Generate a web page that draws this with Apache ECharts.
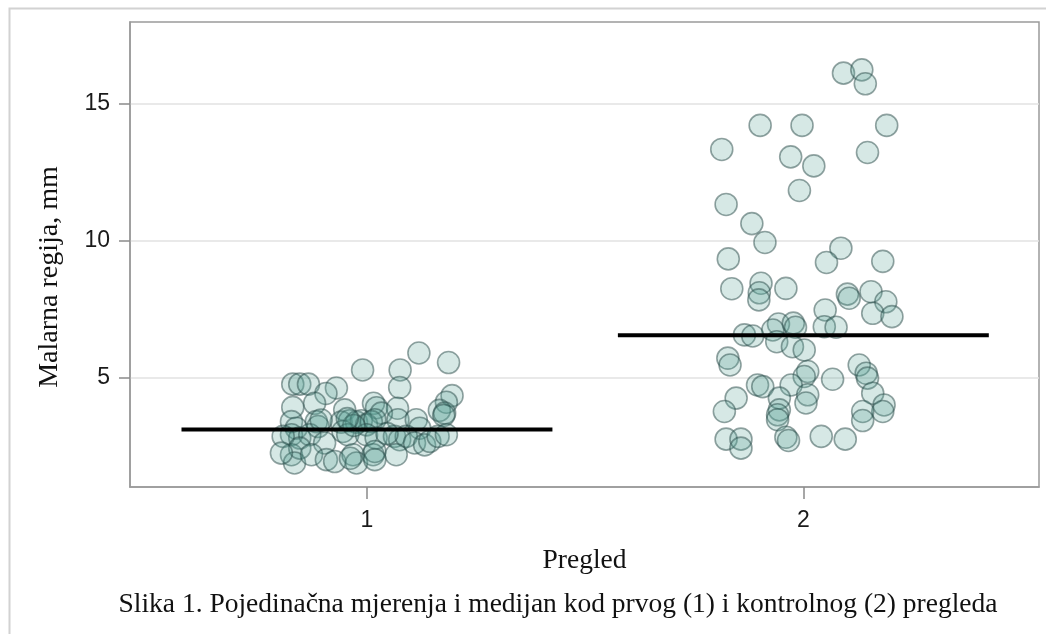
<!DOCTYPE html>
<html>
<head>
<meta charset="utf-8">
<script src="https://cdn.jsdelivr.net/npm/echarts@6/dist/echarts.min.js"></script>
<style>
  html, body { margin: 0; padding: 0; background: #fff; }
  #chart { width: 1046px; height: 634px; }
</style>
</head>
<body>
<div id="chart"></div>
<script>
// pregled (1 = prvi, 2 = kontrolni)
const groups = [1, 2];
const groupLabels = ['1', '2'];
const medians = [3.1, 6.55];
const yTicks = [5, 10, 15];

// [jitter from group centre, Malarna regija mm]
const pregled1 = [
  [0.119, 5.90], [0.187, 5.55], [-0.010, 5.28], [0.076, 5.28], [0.075, 4.64],
  [-0.170, 4.76], [-0.154, 4.76], [-0.134, 4.76], [-0.070, 4.62], [-0.094, 4.42],
  [-0.120, 4.06], [-0.170, 3.91], [0.015, 4.06], [0.022, 3.90], [0.070, 3.88],
  [0.195, 4.34], [0.182, 4.10], [0.166, 3.80], [0.178, 3.70], [0.176, 3.62],
  [-0.051, 3.82], [0.033, 3.70], [-0.173, 3.39], [-0.162, 3.15], [-0.116, 3.39],
  [-0.112, 3.21], [-0.059, 3.37], [-0.040, 3.42], [-0.024, 3.37], [-0.013, 3.42],
  [-0.001, 3.27], [0.010, 3.39], [0.018, 3.46], [0.071, 3.46], [0.113, 3.46],
  [0.121, 3.15], [-0.173, 2.91], [-0.154, 2.79], [-0.131, 2.91], [-0.097, 2.61],
  [-0.055, 3.03], [-0.044, 2.91], [-0.001, 2.91], [0.021, 2.79], [0.063, 2.85],
  [0.075, 2.73], [0.090, 2.85], [0.109, 2.61], [0.132, 2.54], [0.144, 2.67],
  [0.163, 2.85], [0.182, 2.91], [-0.192, 2.85], [-0.173, 2.18], [-0.154, 2.42],
  [-0.166, 1.88], [-0.127, 2.18], [-0.093, 2.00], [-0.074, 1.93], [-0.032, 2.18],
  [-0.024, 1.88], [0.014, 2.18], [0.018, 2.30], [0.067, 2.18], [0.018, 2.00],
  [-0.196, 2.24], [-0.038, 2.05], [0.046, 2.95], [-0.030, 3.25], [-0.045, 3.50],
  [-0.105, 3.45]
];

const pregled2 = [
  [0.092, 16.13], [0.134, 16.25], [0.142, 15.74], [-0.099, 14.22], [-0.003, 14.22],
  [0.191, 14.22], [-0.187, 13.34], [-0.029, 13.07], [0.024, 12.74], [0.147, 13.23],
  [-0.009, 11.84], [-0.177, 11.33], [-0.118, 10.63], [-0.088, 9.94], [0.086, 9.73],
  [-0.172, 9.34], [0.053, 9.21], [0.182, 9.25], [-0.164, 8.25], [-0.097, 8.45],
  [-0.101, 8.10], [-0.102, 7.84], [-0.040, 8.26], [0.101, 8.05], [0.105, 7.90],
  [0.155, 8.14], [0.189, 7.77], [0.159, 7.35], [0.203, 7.23], [0.050, 7.47],
  [0.048, 6.86], [0.075, 6.84], [-0.057, 6.96], [-0.023, 6.99], [-0.018, 6.84],
  [-0.070, 6.74], [-0.135, 6.56], [-0.116, 6.52], [-0.061, 6.31], [-0.025, 6.13],
  [0.002, 6.01], [-0.173, 5.71], [-0.168, 5.46], [0.128, 5.46], [0.144, 5.16],
  [0.147, 4.98], [0.159, 4.43], [0.067, 4.94], [0.010, 5.22], [0.002, 5.04],
  [-0.028, 4.73], [-0.105, 4.73], [-0.093, 4.67], [-0.154, 4.25], [-0.181, 3.76],
  [-0.055, 4.25], [0.010, 4.37], [0.006, 4.07], [-0.055, 3.82], [-0.059, 3.64],
  [-0.059, 3.46], [0.185, 4.00], [0.182, 3.76], [0.136, 3.76], [0.136, 3.43],
  [-0.177, 2.75], [-0.143, 2.75], [-0.143, 2.42], [-0.040, 2.82], [-0.034, 2.70],
  [0.041, 2.85], [0.096, 2.75]
];

const medianHalfWidth = 0.425;

const chart = echarts.init(document.getElementById('chart'));

const pointStyle = {
  color: 'rgba(88, 160, 150, 0.3)',
  borderColor: 'rgba(40, 72, 70, 0.62)',
  borderWidth: 1.6
};

const scatterSeries = [pregled1, pregled2].map((pts, i) => ({
  type: 'scatter',
  symbolSize: 22,
  itemStyle: pointStyle,
  data: pts.map(p => [groups[i] + p[0], p[1]]),
  z: 2
}));

const medianSeries = medians.map((m, i) => ({
  type: 'line',
  symbol: 'none',
  silent: true,
  lineStyle: { color: '#000', width: 4 },
  data: [[groups[i] - medianHalfWidth, m], [groups[i] + medianHalfWidth, m]],
  z: 5
}));

const option = {
  backgroundColor: '#fff',
  animation: false,
  grid: {
    left: 130, right: 7, top: 22, bottom: 147,
    show: true,
    borderColor: '#9a9a9a',
    borderWidth: 1.5
  },
  xAxis: {
    type: 'value',
    min: 0.457,
    max: 2.54,
    name: 'Pregled',
    nameLocation: 'middle',
    nameGap: 60,
    nameTextStyle: { fontFamily: 'Liberation Serif', fontSize: 27.5, color: '#111' },
    axisLine: { show: true, lineStyle: { color: '#9a9a9a', width: 1.5 } },
    axisTick: { show: true, customValues: groups, length: 12, lineStyle: { color: '#8a8a8a', width: 1.5 } },
    axisLabel: {
      customValues: groups,
      margin: 22,
      fontFamily: 'Liberation Sans',
      fontSize: 23,
      color: '#1a1a1a',
      formatter: v => groupLabels[groups.indexOf(v)] || ''
    },
    splitLine: { show: false }
  },
  yAxis: {
    type: 'value',
    min: 1,
    max: 18,
    axisLine: { show: true, lineStyle: { color: '#9a9a9a', width: 1.5 } },
    axisTick: { show: true, customValues: yTicks, length: 11, lineStyle: { color: '#8a8a8a', width: 1.5 } },
    axisLabel: {
      customValues: yTicks,
      margin: 20,
      fontFamily: 'Liberation Sans',
      fontSize: 23,
      color: '#1a1a1a'
    },
    splitLine: { show: true, lineStyle: { color: '#e2e2e2', width: 1.5 } }
  },
  graphic: [
    {
      type: 'rect',
      left: 7, top: 6,
      shape: { width: 1060, height: 660 },
      style: { fill: 'none', stroke: '#d2d2d2', lineWidth: 2 },
      silent: true
    },
    {
      type: 'text',
      x: 50, y: 277,
      rotation: Math.PI / 2,
      style: {
        text: 'Malarna regija, mm',
        fontFamily: 'Liberation Serif',
        fontSize: 28,
        fill: '#111',
        align: 'center',
        verticalAlign: 'middle'
      }
    },
    {
      type: 'text',
      x: 558, y: 605,
      style: {
        text: 'Slika 1. Pojedinačna mjerenja i medijan kod prvog (1) i kontrolnog (2) pregleda',
        fontFamily: 'Liberation Serif',
        fontSize: 27.5,
        fill: '#111',
        align: 'center',
        verticalAlign: 'middle'
      }
    }
  ],
  series: scatterSeries.concat(medianSeries)
};

chart.setOption(option);
</script>
</body>
</html>
